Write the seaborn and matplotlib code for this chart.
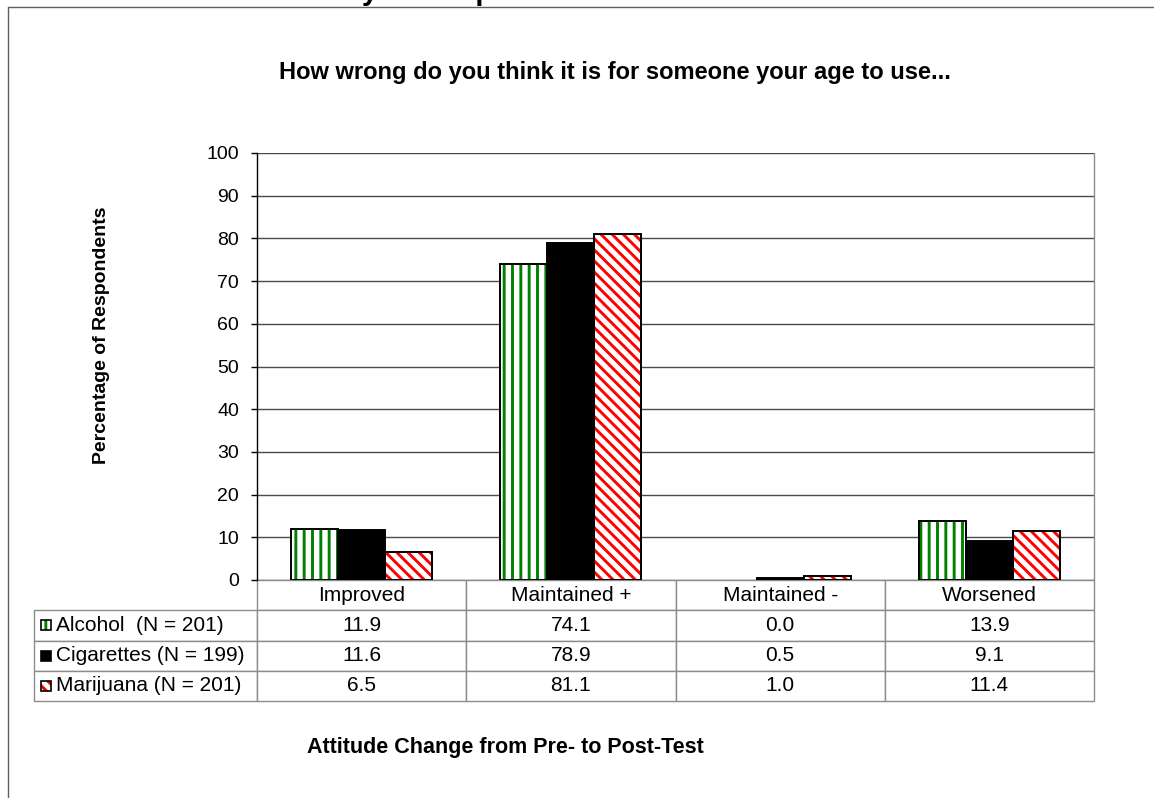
import numpy as np
import pandas as pd
import seaborn as sns
import matplotlib.pyplot as plt
from matplotlib.patches import Rectangle
from matplotlib.lines import Line2D

# ---- data -------------------------------------------------------------
categories = ["Improved", "Maintained +", "Maintained -", "Worsened"]
series = ["Alcohol  (N = 201)", "Cigarettes (N = 199)", "Marijuana (N = 201)"]
alcohol = [11.9, 74.1, 0.0, 13.9]
cigarettes = [11.6, 78.9, 0.5, 9.1]
marijuana = [6.5, 81.1, 1.0, 11.4]
yticks = list(range(0, 101, 10))

title = "How wrong do you think it is for someone your age to use..."
suptitle = "Survey Participants"
ylabel = "Percentage of Respondents"
xlabel = "Attitude Change from Pre- to Post-Test"

# ---- styling ----------------------------------------------------------
sns.set_style("white")
plt.rcParams["font.family"] = ["Liberation Sans", "DejaVu Sans"]
plt.rcParams["hatch.linewidth"] = 2.1
for key in ("text.color", "axes.labelcolor", "xtick.color", "ytick.color"):
    plt.rcParams[key] = "black"

# face colour, hatch pattern, hatch colour for each series
styles = [
    ("white", "||", "#008000"),
    ("black", "", "black"),
    ("white", "\\\\\\", "#ff0000"),
]

W, H = 1154, 798
fig = plt.figure(figsize=(W / 100, H / 100), dpi=100)
fig.patch.set_facecolor("white")

# plot area in pixel terms
left, right, top, bottom = 257, 1094, 153, 580
ax = fig.add_axes([left / W, 1 - bottom / H, (right - left) / W, (bottom - top) / H])

df = pd.DataFrame({
    "category": np.repeat([categories], len(series), axis=0).ravel(),
    "series": np.repeat(series, len(categories)),
    "value": np.concatenate([alcohol, cigarettes, marijuana]),
})

sns.barplot(data=df, x="category", y="value", hue="series",
            order=categories, hue_order=series, width=0.675, gap=0,
            saturation=1, palette=["white", "black", "white"],
            legend=False, ax=ax, zorder=3)

# hatch each bar, then outline it in black
bars = list(ax.patches)
for i, p in enumerate(bars):
    face, hatch, hcol = styles[i // len(categories)]
    p.set_facecolor(face)
    p.set_hatch(hatch)
    p.set_edgecolor(hcol)
    p.set_linewidth(0)
    p.set_zorder(3)
    if p.get_height() > 0:
        ax.add_patch(Rectangle(p.get_xy(), p.get_width(), p.get_height(),
                               fill=False, edgecolor="black", linewidth=1.4,
                               zorder=4))

ax.set_xlim(-0.5, len(categories) - 0.5)
ax.set_ylim(0, 100)
ax.set_yticks(yticks)
ax.set_yticklabels([str(t) for t in yticks], fontsize=14)
ax.tick_params(axis="y", direction="out", length=4, width=1, color="black",
               pad=9, left=True)
ax.tick_params(axis="x", length=0, labelbottom=False)
ax.set_xlabel("")
ax.set_ylabel("")
ax.yaxis.grid(True, color="#4a4a4a", linewidth=1)
ax.set_axisbelow(True)
for side in ("top", "bottom"):
    ax.spines[side].set_visible(False)
ax.spines["left"].set_color("black")
ax.spines["left"].set_linewidth(1)
ax.spines["right"].set_color("#8c8c8c")
ax.spines["right"].set_linewidth(1)

# ---- data table under the axis ---------------------------------------
tbl_left, tbl_bottom = 34, 701
n_rows = len(series) + 1
cell_text = [[""] + categories]
for name, vals in zip(series, [alcohol, cigarettes, marijuana]):
    cell_text.append([name] + [f"{v:.1f}" for v in vals])

label_w = left - tbl_left
cat_w = (right - left) / len(categories)
tot_w = right - tbl_left
col_widths = [label_w / tot_w] + [cat_w / tot_w] * len(categories)

px_w = right - left
px_h = bottom - top
tbl = ax.table(cellText=cell_text, colWidths=col_widths, cellLoc="center",
               bbox=[(tbl_left - left) / px_w, -(tbl_bottom - bottom) / px_h,
                     tot_w / px_w, (tbl_bottom - bottom) / px_h])
tbl.auto_set_font_size(False)
tbl.set_fontsize(15)
for (r, c), cell in tbl.get_celld().items():
    cell.set_edgecolor("#8c8c8c")
    cell.set_linewidth(1)
    cell.get_text().set_color("black")
    if r == 0 and c == 0:
        cell.set_edgecolor("none")
        cell.set_facecolor("none")
    if c == 0 and r > 0:
        cell._loc = "left"
        cell.PAD = 0.1
        cell.get_text().set_ha("left")

# legend keys inside the row-label cells
row_h = (tbl_bottom - bottom) / n_rows
for i, (face, hatch, hcol) in enumerate(styles):
    yc = bottom + row_h * (i + 1) + row_h / 2
    sw, sh = 10, 10
    fig.add_artist(Rectangle((41 / W, 1 - (yc + sh / 2) / H), sw / W, sh / H,
                             transform=fig.transFigure, facecolor=face,
                             hatch=hatch, edgecolor=hcol, linewidth=0))
    fig.add_artist(Rectangle((41 / W, 1 - (yc + sh / 2) / H), sw / W, sh / H,
                             transform=fig.transFigure, fill=False,
                             edgecolor="black", linewidth=1.2))

# ---- titles and axis labels ------------------------------------------
fig.text(417 / W, 1.0, suptitle, ha="center", va="baseline",
         fontsize=21, fontweight="bold")
fig.text(615 / W, 1 - 72 / H, title, ha="center", va="center",
         fontsize=17, fontweight="bold")
fig.text(101 / W, 1 - 335 / H, ylabel, ha="center", va="center",
         rotation=90, fontsize=14, fontweight="bold")
fig.text(505 / W, 1 - 748 / H, xlabel, ha="center", va="center",
         fontsize=15.5, fontweight="bold")

# chart frame (runs off the top-right and bottom)
fig.add_artist(Line2D([8 / W, 1.0], [1 - 7 / H, 1 - 7 / H],
                      transform=fig.transFigure, color="#5f5f5f", linewidth=1))
fig.add_artist(Line2D([8 / W, 8 / W], [1 - 7 / H, 0.0],
                      transform=fig.transFigure, color="#5f5f5f", linewidth=1))

fig.savefig("out.png", dpi=100, facecolor="white")
